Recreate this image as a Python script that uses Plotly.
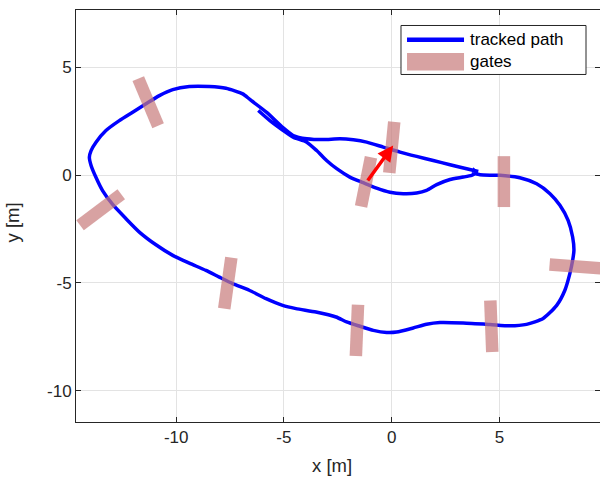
import plotly.graph_objects as go

# tracked path (metres), in driving order
path_x = [-6.19, -5.65, -5.03, -4.57, -3.94, -3.48, -3.02, -2.55, -1.94, -1.32,
          -0.70, -0.08, 0.54, 1.16, 1.62, 2.09, 2.71, 3.32, 3.71, 3.87,
          4.10, 4.56, 5.03, 5.95, 6.73, 7.35, 7.81, 8.19, 8.40, 8.46,
          8.40, 8.27, 8.04, 7.66, 7.03, 6.26, 5.49, 4.56, 3.32, 2.24,
          1.62, 1.00, 0.23, -0.23, -0.85, -1.47, -2.09, -2.58, -3.51, -4.44,
          -5.06, -5.83, -6.61, -7.38, -8.00, -8.62, -9.39, -10.16, -10.94, -11.71,
          -12.33, -12.95, -13.41, -13.72, -13.95, -14.03, -13.95, -13.72, -13.26, -12.64,
          -12.02, -11.40, -10.78, -10.16, -9.39, -8.46, -7.69, -6.91, -6.58, -5.80,
          -5.03, -4.57, -3.94, -3.17, -2.40, -1.78, -1.16, -0.39, 0.39, 1.16,
          1.93, 2.71, 3.48, 4.02]
path_y = [3.00, 2.53, 2.07, 1.76, 1.53, 1.14, 0.68, 0.30, -0.09, -0.35,
          -0.60, -0.79, -0.86, -0.83, -0.71, -0.44, -0.20, -0.09, -0.01, 0.06,
          0.02, 0.00, -0.01, -0.12, -0.40, -0.86, -1.40, -2.10, -2.87, -3.49,
          -3.95, -4.57, -5.34, -6.04, -6.65, -6.92, -6.99, -6.93, -6.86, -6.84,
          -6.92, -7.09, -7.28, -7.30, -7.20, -7.01, -6.81, -6.58, -6.35, -6.19,
          -6.04, -5.73, -5.34, -5.03, -4.73, -4.42, -4.08, -3.72, -3.23, -2.64,
          -2.02, -1.36, -0.73, -0.11, 0.45, 0.83, 1.14, 1.53, 2.07, 2.53,
          2.92, 3.31, 3.69, 3.97, 4.11, 4.11, 4.03, 3.77, 3.51, 2.91,
          2.19, 1.84, 1.69, 1.65, 1.69, 1.64, 1.53, 1.30, 1.07, 0.87,
          0.68, 0.48, 0.30, 0.17]

# gate end points (metres)
gate_x1 = [-11.76, -14.46, -7.44, -1.56, 4.58, 7.33, 5.21, 0.12, -0.96]
gate_y1 = [4.48, -2.32, -3.83, -6.01, -5.81, -4.14, 0.88, 2.47, 0.83]
gate_x2 = [-10.84, -12.55, -7.77, -1.66, 4.67, 9.69, 5.21, -0.11, -1.42]
gate_y2 = [2.29, -0.89, -6.19, -8.39, -8.20, -4.32, -1.48, 0.11, -1.45]

# red heading arrow: tail -> tip
arrow_tail = [-1.16, -0.32]
arrow_tip = [0.07, 1.38]

x_ticks = [-10, -5, 0, 5]
x_tick_labels = ["-10", "-5", "0", "5"]
y_ticks = [-10, -5, 0, 5]
y_tick_labels = ["-10", "-5", "0", "5"]
x_range = [-14.65, 9.67]
y_range = [-11.45, 7.66]

legend_names = ["tracked path", "gates"]

FONT = "Liberation Sans, Arial, Helvetica, sans-serif"
AX = "#262626"
BLUE = "#0000ff"
GATE = "rgb(200,124,124)"
GATE_ALPHA = 0.7

gx, gy = [], []
for a, b, c, d in zip(gate_x1, gate_y1, gate_x2, gate_y2):
    gx += [a, c, None]
    gy += [b, d, None]

fig = go.Figure()
fig.add_trace(go.Scatter(x=path_x, y=path_y, mode="lines", name=legend_names[0],
                         line=dict(color=BLUE, width=3.5, shape="spline", smoothing=0.6)))
fig.add_trace(go.Scatter(x=gx, y=gy, mode="lines", name=legend_names[1], opacity=GATE_ALPHA,
                         line=dict(color=GATE, width=12.5)))

axis_common = dict(showgrid=True, gridcolor="#e3e3e3", gridwidth=1, zeroline=False,
                   showline=True, linecolor=AX, linewidth=1, mirror="ticks",
                   ticks="inside", ticklen=5, tickcolor=AX,
                   tickfont=dict(family=FONT, size=17, color=AX))

fig.update_layout(
    width=600, height=478,
    margin=dict(l=76, r=0, t=10, b=56, autoexpand=False),
    paper_bgcolor="white", plot_bgcolor="white",
    showlegend=False,
)
fig.update_xaxes(range=x_range, tickvals=x_ticks, ticktext=x_tick_labels, **axis_common)
fig.update_yaxes(range=y_range, tickvals=y_ticks, ticktext=y_tick_labels, **axis_common)

# end-of-path arrowhead (blue) and heading arrow (red)
fig.add_annotation(x=path_x[-1], y=path_y[-1], ax=path_x[-3], ay=path_y[-3],
                   xref="x", yref="y", axref="x", ayref="y", text="",
                   showarrow=True, arrowhead=2, arrowsize=0.6, arrowwidth=2,
                   arrowcolor=BLUE, standoff=0)
fig.add_annotation(x=arrow_tip[0], y=arrow_tip[1], ax=arrow_tail[0], ay=arrow_tail[1],
                   xref="x", yref="y", axref="x", ayref="y", text="",
                   showarrow=True, arrowhead=2, arrowsize=0.9, arrowwidth=3.5,
                   arrowcolor="#ff0000", standoff=0)

# axis titles
fig.add_annotation(text="x [m]", x=(332 - 76) / 524, y=-0.105, xref="paper", yref="paper",
                   xanchor="center", yanchor="middle",
                   showarrow=False, font=dict(family=FONT, size=18.5, color=AX))
fig.add_annotation(text="y [m]", x=-0.122, y=(421.7 - 222) / 412.2, xref="paper", yref="paper",
                   xanchor="center", yanchor="middle", textangle=-90,
                   showarrow=False, font=dict(family=FONT, size=18.5, color=AX))

# legend box (MATLAB style, compact rows)
fig.add_shape(type="rect", xref="paper", yref="paper", x0=0.6202, x1=0.9733, y0=0.8435, y1=0.9624,
              line=dict(color=AX, width=1), fillcolor="white", layer="above")
fig.add_shape(type="line", xref="paper", yref="paper", x0=0.6317, x1=0.7405, y0=0.9280, y1=0.9280,
              line=dict(color=BLUE, width=4.5), layer="above")
fig.add_shape(type="line", xref="paper", yref="paper", x0=0.6317, x1=0.7405, y0=0.8746, y1=0.8746,
              line=dict(color=GATE, width=17.5), opacity=GATE_ALPHA, layer="above")
for name, yy in zip(legend_names, [0.9280, 0.8746]):
    fig.add_annotation(text=name, x=0.7481, y=yy, xref="paper", yref="paper",
                       xanchor="left", yanchor="middle", showarrow=False,
                       font=dict(family=FONT, size=17, color="black"))

fig.write_html("out.html", config={"displayModeBar": False},
               post_script="document.body.style.margin='0';document.body.style.overflow='hidden';")
